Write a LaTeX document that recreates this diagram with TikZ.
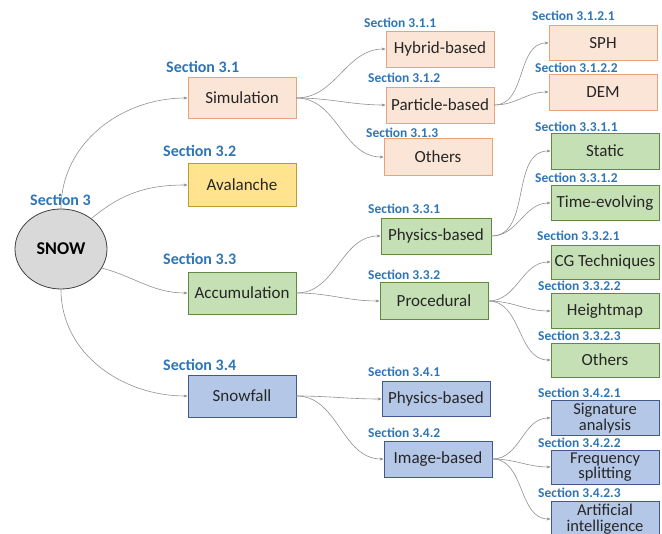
\documentclass[tikz,border=0pt]{standalone}
\usepackage{fontspec}
\setmainfont{Carlito}
\usetikzlibrary{arrows.meta,shapes.geometric}
\definecolor{secblue}{HTML}{2E75B6}
\definecolor{orfill}{HTML}{FBE5D6}
\definecolor{ordraw}{HTML}{E8A27C}
\definecolor{yefill}{HTML}{FFE38E}
\definecolor{yedraw}{HTML}{BF9A2E}
\definecolor{grfill}{HTML}{C5E0B4}
\definecolor{grdraw}{HTML}{5E8A44}
\definecolor{blfill}{HTML}{B4C7E7}
\definecolor{bldraw}{HTML}{41598C}
\definecolor{linegray}{HTML}{909090}
\definecolor{snowfill}{HTML}{D9D9D9}
\begin{document}
\begin{tikzpicture}[x=1pt,y=-1pt,
  boxbase/.style={rectangle, line width=0.8pt, align=center, inner sep=0pt,
    font=\fontsize{17}{15}\selectfont, text=black!85},
  orbox/.style={boxbase, fill=orfill, draw=ordraw},
  yebox/.style={boxbase, fill=yefill, draw=yedraw},
  grbox/.style={boxbase, fill=grfill, draw=grdraw},
  blbox/.style={boxbase, fill=blfill, draw=bldraw},
  twoline/.style={font=\fontsize{16.5}{15.5}\selectfont},
  secA/.style={anchor=west, inner sep=0pt, text=secblue, font=\fontsize{16}{18}\selectfont\bfseries},
  secB/.style={anchor=west, inner sep=0pt, text=secblue, font=\fontsize{13.5}{16}\selectfont\bfseries},
  conn/.style={draw=linegray, line width=0.6pt, -{Stealth[length=4pt,width=3pt]}}
]
\useasboundingbox (0,0) rectangle (662,534);
% root
\node[ellipse, draw=black!75, fill=snowfill, line width=0.8pt, minimum width=92pt, minimum height=80pt, inner sep=0pt,
  font=\fontsize{18}{20}\selectfont\bfseries] (snow) at (61,249) {SNOW};
\node[secA] (s3) at (30,200) {Section 3};
% level 1
\node[orbox, minimum width=108pt, minimum height=41pt] (sim) at (242,98) {Simulation};
\node[yebox, minimum width=108pt, minimum height=43pt] (ava) at (242,185) {Avalanche};
\node[grbox, minimum width=108pt, minimum height=42pt] (acc) at (242,293) {Accumulation};
\node[blbox, minimum width=108pt, minimum height=42pt] (snf) at (242,396) {Snowfall};
\node[secA] (l31) at (166,67) {Section 3.1};
\node[secA] (l32) at (163,151) {Section 3.2};
\node[secA] (l33) at (163,259) {Section 3.3};
\node[secA] (l34) at (163,365) {Section 3.4};
% level 2
\node[orbox, minimum width=108pt, minimum height=36pt] (hyb) at (440,49) {Hybrid-based};
\node[orbox, minimum width=108pt, minimum height=36pt] (par) at (440,105) {Particle-based};
\node[orbox, minimum width=108pt, minimum height=37pt] (oth) at (438,157) {Others};
\node[grbox, minimum width=110pt, minimum height=36pt] (phy) at (436,236) {Physics-based};
\node[grbox, minimum width=108pt, minimum height=37pt] (pro) at (434,301) {Procedural};
\node[blbox, minimum width=108pt, minimum height=35pt] (phb) at (436,399) {Physics-based};
\node[blbox, minimum width=108pt, minimum height=36pt] (img) at (438,459) {Image-based};
\node[secB] (l311) at (364,23) {Section 3.1.1};
\node[secB] (l312) at (368,78) {Section 3.1.2};
\node[secB] (l313) at (366,133) {Section 3.1.3};
\node[secB] (l331) at (368,209) {Section 3.3.1};
\node[secB] (l332) at (368,275) {Section 3.3.2};
\node[secB] (l341) at (368,372) {Section 3.4.1};
\node[secB] (l342) at (368,433) {Section 3.4.2};
% level 3
\node[orbox, minimum width=108pt, minimum height=35pt] (sph) at (603,43) {SPH};
\node[orbox, minimum width=108pt, minimum height=36pt] (dem) at (603,92) {DEM};
\node[grbox, minimum width=108pt, minimum height=36pt] (sta) at (605,151) {Static};
\node[grbox, minimum width=108pt, minimum height=35pt] (tim) at (605,203) {Time-evolving};
\node[grbox, minimum width=108pt, minimum height=34pt] (cgt) at (605,262) {CG Techniques};
\node[grbox, minimum width=108pt, minimum height=35pt] (hei) at (605,311) {Heightmap};
\node[grbox, minimum width=108pt, minimum height=34pt] (ot2) at (605,360) {Others};
\node[blbox, twoline, minimum width=108pt, minimum height=35pt] (sig) at (605,418) {Signature\\analysis};
\node[blbox, twoline, minimum width=108pt, minimum height=34pt] (fre) at (605,467) {Frequency\\splitting};
\node[blbox, twoline, minimum width=108pt, minimum height=36pt] (art) at (605,519) {Artificial\\intelligence};
\node[secB] (l3121) at (532,16) {Section 3.1.2.1};
\node[secB] (l3122) at (535,68) {Section 3.1.2.2};
\node[secB] (l3311) at (535,127) {Section 3.3.1.1};
\node[secB] (l3312) at (535,178) {Section 3.3.1.2};
\node[secB] (l3321) at (537,236) {Section 3.3.2.1};
\node[secB] (l3322) at (538,286) {Section 3.3.2.2};
\node[secB] (l3323) at (538,336) {Section 3.3.2.3};
\node[secB] (l3421) at (538,393) {Section 3.4.2.1};
\node[secB] (l3422) at (538,443) {Section 3.4.2.2};
\node[secB] (l3423) at (538,493) {Section 3.4.2.3};
% connectors from root
\draw[conn] (snow.north) to[out=90,in=180] (sim.west);
\draw[conn] (snow.45) to[out=40,in=180] (ava.west);
\draw[conn] (snow.-25) to[out=-15,in=180] (acc.west);
\draw[conn] (snow.south) to[out=-90,in=180] (snf.west);
% level 1 -> 2
\draw[conn] (sim.east) to[out=0,in=180] (hyb.west);
\draw[conn] (sim.east) to[out=0,in=180] (par.west);
\draw[conn] (sim.east) to[out=0,in=180] (oth.west);
\draw[conn] (acc.east) to[out=0,in=180] (phy.west);
\draw[conn] (acc.east) to[out=0,in=180] (pro.west);
\draw[conn] (snf.east) to[out=0,in=180] (phb.west);
\draw[conn] (snf.east) to[out=0,in=180] (img.west);
% level 2 -> 3
\draw[conn] (par.east) to[out=0,in=180] (sph.west);
\draw[conn] (par.east) to[out=0,in=180] (dem.west);
\draw[conn] (phy.east) to[out=0,in=180] (sta.west);
\draw[conn] (phy.east) to[out=0,in=180] (tim.west);
\draw[conn] (pro.east) to[out=0,in=180] (cgt.west);
\draw[conn] (pro.east) to[out=0,in=180] (hei.west);
\draw[conn] (pro.east) to[out=0,in=180] (ot2.west);
\draw[conn] (img.east) to[out=0,in=180] (sig.west);
\draw[conn] (img.east) to[out=0,in=180] (fre.west);
\draw[conn] (img.east) to[out=0,in=180] (art.west);
\end{tikzpicture}
\end{document}
